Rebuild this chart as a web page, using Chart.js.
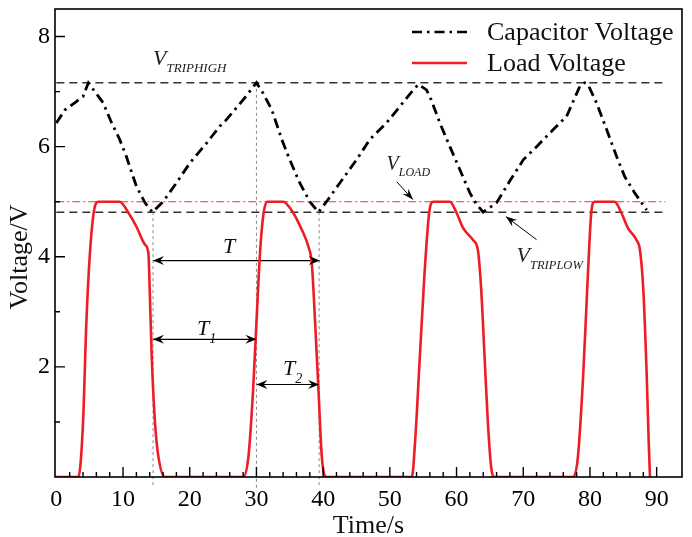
<!DOCTYPE html>
<html>
<head>
<meta charset="utf-8">
<script src="https://cdn.jsdelivr.net/npm/chart.js@4.4.1/dist/chart.umd.min.js"></script>
<style>
  html, body { margin: 0; padding: 0; background: #fff; }
  #wrap { width: 692px; height: 537px; }
</style>
</head>
<body>
<div id="wrap"><canvas id="c" width="692" height="537"></canvas></div>
<script>
/* ===== data ===== */
const capT = [0, 1.3, 2.8, 4, 4.8, 6.5, 7, 8.3, 9.5, 10.5, 12, 13.3, 14.4, 16, 18, 20, 22.5, 24.5, 25.5, 28, 30,
  31, 32.3, 33.8, 35, 36.5, 38, 39.3, 40.5, 42.5, 45, 47, 49.5, 51.5, 53.5, 54.3, 55.5, 56.2, 57.5, 59, 60.5, 62, 63, 64,
  66, 68, 70, 72, 74.5, 76.5, 78.5, 79.2, 79.7, 81, 82.5, 84, 85.2, 86.7, 88.5];
const capV = [6.43, 6.67, 6.8, 6.91, 7.16, 6.88, 6.8, 6.43, 6.13, 5.82, 5.28, 4.98, 4.81, 5.0, 5.34, 5.7, 6.06, 6.37, 6.49, 6.85, 7.16,
  6.97, 6.67, 6.13, 5.76, 5.34, 5.0, 4.81, 5.0, 5.34, 5.76, 6.13, 6.43, 6.73, 7.03, 7.13, 7.03, 6.85, 6.43, 6.0, 5.58, 5.16, 4.95, 4.81,
  4.98, 5.38, 5.76, 6.0, 6.31, 6.55, 7.1, 7.16, 7.13, 6.79, 6.31, 5.82, 5.46, 5.16, 4.85];

const loadT = [0, 3.3, 4.0, 4.5, 5.0, 5.6, 6.3, 9.5, 10.8, 12, 13.3, 13.8, 14.0, 14.3, 14.8, 15.3, 16.3,
  28.0, 28.8, 29.5, 30, 30.5, 31, 31.6, 34, 35.5, 36.8, 37.8, 38.3, 38.8, 39.3, 39.8, 40.5,
  53.3, 53.8, 54.5, 55.2, 55.9, 56.5, 59, 60, 61, 62.5, 63.2, 63.7, 64.2, 64.7, 65.2, 65.7,
  77.5, 78.2, 79, 79.7, 80.2, 80.7, 83.7, 84.7, 85.7, 87, 87.5, 88, 88.5, 88.8, 89];
const loadV = [0, 0, 0.98, 2.8, 4.0, 4.8, 5.0, 5.0, 4.8, 4.55, 4.22, 4.07, 3.4, 2.19, 0.98, 0.37, 0,
  0, 0.37, 1.58, 2.8, 4.0, 4.73, 5.0, 5.0, 4.8, 4.49, 4.18, 3.88, 2.8, 1.58, 0.37, 0,
  0, 0.67, 2.19, 3.7, 4.8, 5.0, 5.0, 4.8, 4.52, 4.3, 4.12, 3.4, 2.19, 0.98, 0.17, 0,
  0, 0.37, 1.88, 3.7, 4.8, 5.0, 5.0, 4.8, 4.52, 4.3, 4.12, 3.4, 1.88, 0.67, 0];

const vTripHigh = 7.16, vTripLow = 4.81, vLoad = 5.0;
const refSpan = [0, 91.3];                 // extent of the threshold lines
const markT = [14.5, 30, 39.4];            // vertical guide times
const markTop = [vTripLow, vTripHigh, vTripLow];
const arrowY = [3.93, 2.5, 1.68];          // T, T1, T2
const arrowFrom = [14.5, 14.5, 30];
const arrowTo = [39.5, 30, 39.4];

const xTicks = [0, 10, 20, 30, 40, 50, 60, 70, 80, 90];
const yTicks = [2, 4, 6, 8];

/* ===== styling ===== */
const SERIF = '"Liberation Serif", "Times New Roman", serif';
const RED = "#ee1c24";
const pts = (xs, ys) => xs.map((x, i) => ({ x, y: ys[i] }));
const hline = (y) => [{ x: refSpan[0], y }, { x: refSpan[1], y }];

const datasets = [
  { label: "Capacitor Voltage", data: pts(capT, capV), borderColor: "#000", borderWidth: 2.8, borderDash: [10, 5, 2.5, 5], tension: 0 },
  { label: "Load Voltage", data: pts(loadT, loadV), borderColor: RED, borderWidth: 2.6, cubicInterpolationMode: "monotone" },
  { label: "trip high", data: hline(vTripHigh), borderColor: "#333", borderWidth: 1.5, borderDash: [8, 5] },
  { label: "trip low", data: hline(vTripLow), borderColor: "#333", borderWidth: 1.5, borderDash: [8, 5] },
  { label: "load", data: hline(vLoad), borderColor: "#e5383d", borderWidth: 1.1, borderDash: [8, 3, 2, 3] },
];
markT.forEach((t, i) => datasets.push({ label: "mark" + i, data: [{ x: t, y: markTop[i] }, { x: t, y: -0.2 }],
  borderColor: "#8a8a8a", borderWidth: 1, borderDash: [3, 3], clip: false }));
arrowY.forEach((y, i) => datasets.push({ label: "arrow" + i, data: [{ x: arrowFrom[i], y }, { x: arrowTo[i], y }],
  borderColor: "#000", borderWidth: 1.2 }));
// pointer arrows for V_LOAD and V_TRIPLOW labels
const ptrLoad = [{ x: 51.05, y: 5.36 }, { x: 53.45, y: 5.04 }];
const ptrLow = [{ x: 72.0, y: 4.31 }, { x: 67.4, y: 4.73 }];
datasets.push({ label: "ptrLoad", data: ptrLoad, borderColor: "#000", borderWidth: 1 });
datasets.push({ label: "ptrLow", data: ptrLow, borderColor: "#000", borderWidth: 1 });
datasets.forEach((d) => { d.pointRadius = 0; d.fill = false; });

function head(ctx, tx, ty, fx, fy, len, wid) {
  const a = Math.atan2(ty - fy, tx - fx);
  ctx.save(); ctx.translate(tx, ty); ctx.rotate(a);
  ctx.beginPath(); ctx.moveTo(0, 0); ctx.lineTo(-len, -wid); ctx.lineTo(-len * 0.65, 0); ctx.lineTo(-len, wid); ctx.closePath();
  ctx.fillStyle = "#000"; ctx.fill(); ctx.restore();
}
function subLabel(ctx, px, py, main, sub, mainSize, subSize, color) {
  ctx.fillStyle = color || "#111"; ctx.textAlign = "left"; ctx.textBaseline = "alphabetic";
  ctx.font = `italic ${mainSize}px ${SERIF}`; ctx.fillText(main, px, py);
  const w = ctx.measureText(main).width;
  ctx.font = `italic ${subSize}px ${SERIF}`; ctx.fillText(sub, px + w, py + subSize * 0.55);
}

const deco = {
  id: "deco",
  afterDraw(chart) {
    const { ctx, chartArea: a, scales: { x, y } } = chart;
    ctx.save();
    // frame
    ctx.strokeStyle = "#000"; ctx.lineWidth = 1.6;
    ctx.strokeRect(a.left, a.top, a.right - a.left, a.bottom - a.top);
    // inward ticks
    ctx.lineWidth = 1.4; ctx.beginPath();
    for (let v = 2; v <= 90; v += 2) {
      const px = x.getPixelForValue(v), l = v % 10 === 0 ? 10 : 5;
      ctx.moveTo(px, a.bottom); ctx.lineTo(px, a.bottom - l);
    }
    for (let v = 1; v <= 8; v += 1) {
      const py = y.getPixelForValue(v), l = v % 2 === 0 ? 10 : 5;
      ctx.moveTo(a.left, py); ctx.lineTo(a.left + l, py);
    }
    ctx.stroke();
    // double arrow heads
    arrowY.forEach((v, i) => {
      const py = y.getPixelForValue(v), p1 = x.getPixelForValue(arrowFrom[i]), p2 = x.getPixelForValue(arrowTo[i]);
      head(ctx, p1, py, p2, py, 11, 4.5); head(ctx, p2, py, p1, py, 11, 4.5);
    });
    [ptrLoad, ptrLow].forEach((p) => head(ctx, x.getPixelForValue(p[1].x), y.getPixelForValue(p[1].y),
      x.getPixelForValue(p[0].x), y.getPixelForValue(p[0].y), 11, 4));
    // annotation texts
    const P = (vx, vy) => [x.getPixelForValue(vx), y.getPixelForValue(vy)];
    let q = P(14.5, 7.49); subLabel(ctx, q[0], q[1], "V", "TRIPHIGH", 22, 13, "#222");
    q = P(49.5, 5.58); subLabel(ctx, q[0], q[1], "V", "LOAD", 20, 12, "#222");
    q = P(69.0, 3.91); subLabel(ctx, q[0], q[1], "V", "TRIPLOW", 22, 12.5, "#222");
    q = P(25.0, 4.07); subLabel(ctx, q[0], q[1], "T", "", 22, 13, "#111");
    q = P(21.1, 2.58); subLabel(ctx, q[0], q[1], "T", "1", 22, 14, "#111");
    q = P(34.0, 1.85); subLabel(ctx, q[0], q[1], "T", "2", 22, 14, "#111");
    // legend
    const ds = chart.data.datasets;
    [0, 1].forEach((k, i) => {
      const ly = a.top + 23 + i * 31, lx = a.right - 270;
      ctx.strokeStyle = ds[k].borderColor; ctx.lineWidth = 2.6; ctx.setLineDash(ds[k].borderDash || []);
      ctx.beginPath(); ctx.moveTo(lx, ly); ctx.lineTo(lx + 55, ly); ctx.stroke(); ctx.setLineDash([]);
      ctx.fillStyle = "#111"; ctx.font = `26px ${SERIF}`; ctx.textAlign = "left"; ctx.textBaseline = "middle";
      ctx.fillText(ds[k].label, lx + 75, ly + 1);
    });
    // axis titles
    ctx.fillStyle = "#111"; ctx.font = `26px ${SERIF}`; ctx.textAlign = "center"; ctx.textBaseline = "alphabetic";
    ctx.fillText("Time/s", (a.left + a.right) / 2, 533);
    ctx.translate(27, 257); ctx.rotate(-Math.PI / 2); ctx.fillText("Voltage/V", 0, 0);
    ctx.restore();
  },
};

const tickFont = { family: SERIF, size: 24 };
new Chart(document.getElementById("c"), {
  type: "line",
  data: { datasets },
  options: {
    responsive: false, animation: false, devicePixelRatio: 1,
    layout: { padding: { top: 9, right: 10, left: 0, bottom: 0 } },
    plugins: { legend: { display: false }, tooltip: { enabled: false } },
    scales: {
      x: { type: "linear", min: -0.2, max: 93.8,
        grid: { display: false, drawTicks: false }, border: { display: false },
        ticks: { font: tickFont, color: "#000", padding: 8, autoSkip: false, maxRotation: 0 },
        afterBuildTicks: (s) => { s.ticks = xTicks.map((v) => ({ value: v })); },
        afterFit: (s) => { s.height = 60; s.paddingLeft = 0; s.paddingRight = 0; } },
      y: { type: "linear", min: 0, max: 8.5,
        grid: { display: false, drawTicks: false }, border: { display: false },
        ticks: { font: tickFont, color: "#000", padding: 5 },
        afterBuildTicks: (s) => { s.ticks = yTicks.map((v) => ({ value: v })); },
        afterFit: (s) => { s.width = 55; s.paddingTop = 0; s.paddingBottom = 0; } },
    },
  },
  plugins: [deco],
});
</script>
</body>
</html>
